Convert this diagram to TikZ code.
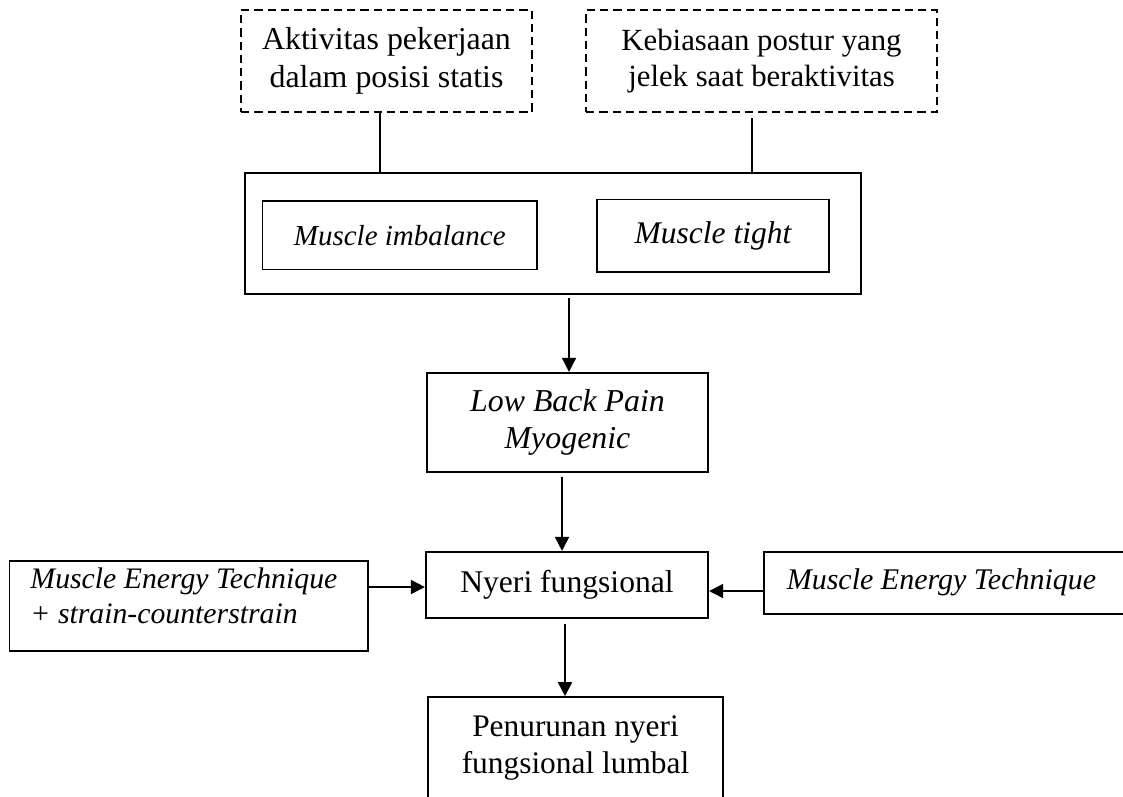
\documentclass[tikz,border=0pt]{standalone}
\usepackage{fontspec}
\setmainfont{Liberation Serif}
\usetikzlibrary{arrows.meta}
\newcommand{\fsz}[1]{\fontsize{#1}{1.18\dimexpr #1pt\relax}\selectfont}
\begin{document}
\begin{tikzpicture}[x=0.4pt,y=-0.4pt,
  txt/.style={inner sep=0pt, align=center, font=\fontsize{12}{14.4}\selectfont},
  box/.style={txt, draw, line width=0.65pt, rectangle},
  dbox/.style={box, line width=0.8pt, dash pattern=on 3.3pt off 2pt},
  bigbox/.style={draw, line width=1pt, inner sep=0pt, rectangle},
  link/.style={line width=0.65pt},
  arr/.style={link, -{Triangle[width=5.6pt,length=5.6pt]}}]
\useasboundingbox (0,0) rectangle (1123,796);
\clip (0,0) rectangle (1123,796);

% top dashed boxes
\node[dbox, font=\fsz{12.75}, minimum width=116.4pt, minimum height=40.8pt] (A) at (386.5,61)
  {Aktivitas pekerjaan\\dalam posisi statis};
\node[dbox, font=\fsz{12.3}, minimum width=140.4pt, minimum height=40.8pt] (B) at (761.5,61)
  {Kebiasaan postur yang\\jelek saat beraktivitas};

% big box with two inner boxes
\node[bigbox, minimum width=246.4pt, minimum height=48.4pt] (big) at (553,233.5) {};
\node[box, font=\fsz{11.6}\itshape, minimum width=109.8pt, minimum height=27.4pt] (mi) at (399.8,235.2)
  {Muscle imbalance};
\node[box, font=\fsz{12.6}\itshape, minimum width=93pt, minimum height=29.1pt] (mt) at (713,235.9)
  {Muscle tight};

% middle chain
\node[box, font=\fsz{12.75}\itshape, minimum width=112.4pt, minimum height=39.6pt] (lbp) at (567.5,422.2)
  {Low Back Pain\\Myogenic};
\node[box, font=\fsz{12.65}, minimum width=113pt, minimum height=26.6pt] (nyeri) at (567,585)
  {Nyeri fungsional};
\node[box, font=\fsz{12.55}, minimum width=118pt, minimum height=40.8pt] (pen) at (575.5,748)
  {Penurunan nyeri\\fungsional lumbal};

% left treatment box
\node[box, minimum width=143.5pt, minimum height=36pt] (metL) at (188.7,606) {};
\node[txt, font=\fsz{11.9}\itshape, align=left, anchor=north west] (metLt) at (30,567.5)
  {Muscle Energy Technique\\+ strain-counterstrain};

% right treatment box (runs off the page)
\node[box, anchor=west, minimum width=180pt, minimum height=25pt] (metR) at (763,583) {};
\node[txt, font=\fsz{12}\itshape] (metRt) at (941.5,582) {Muscle Energy Technique};

% connectors
\draw[link] (A.south -| 380,0) -- (big.north -| 380,0);
\draw[link] (B.south -| 752,0) ++(0,5) -- (big.north -| 752,0);
\draw[arr] (big.south -| 569,0) ++(0,3) -- (lbp.north -| 569,0);
\draw[arr] (lbp.south -| 562,0) ++(0,4) -- (nyeri.north -| 562,0);
\draw[arr] (metL.east |- 0,587) -- (nyeri.west |- 0,587);
\draw[arr] (metR.west |- 0,591) -- (nyeri.east |- 0,591);
\draw[arr] (nyeri.south -| 565,0) ++(0,5) -- (pen.north -| 565,0);
\end{tikzpicture}
\end{document}
